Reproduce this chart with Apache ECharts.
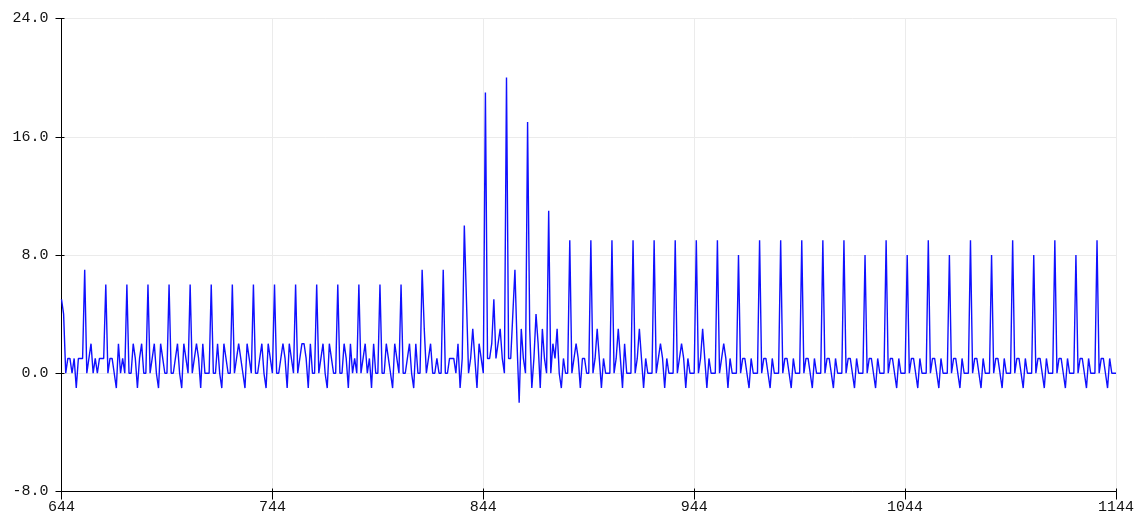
<!DOCTYPE html>
<html>
<head>
<meta charset="utf-8">
<script src="https://cdn.jsdelivr.net/npm/echarts@6/dist/echarts.min.js"></script>
<style>
  html, body { margin: 0; padding: 0; background: #fff; }
  #plot { width: 1145px; height: 521px; }
</style>
</head>
<body>
<div id="plot"></div>
<script>
// sample numbers on the x axis start here
const firstSample = 644
const xTicks = [644, 744, 844, 944, 1044, 1144]
const yTicks = [-8, 0, 8, 16, 24]

// readings 644..804
const calmValues = [
  5, 4, 0, 1, 1, 0, 1, -1, 1, 1, 1,
  7, 0, 1, 2, 0, 1, 0, 1, 1, 1,
  6, 0, 1, 1, 0, -1, 2, 0, 1, 0,
  6, 0, 0, 2, 1, -1, 1, 2, 0, 0,
  6, 0, 1, 2, 0, -1, 2, 1, 0, 0,
  6, 0, 0, 1, 2, 0, -1, 2, 1, 0,
  6, 0, 1, 2, 1, -1, 2, 0, 0, 0,
  6, 0, 0, 2, 0, -1, 2, 1, 0, 0,
  6, 0, 1, 2, 1, 0, -1, 2, 1, 0,
  6, 0, 0, 1, 2, 0, -1, 2, 1, 0,
  6, 0, 0, 1, 2, 1, -1, 2, 1, 0,
  6, 0, 1, 2, 2, 1, -1, 2, 0, 0,
  6, 0, 1, 2, 0, -1, 2, 1, 0, 0,
  6, 0, 0, 2, 1, -1, 2, 0, 1, 0,
  6, 0, 1, 2, 0, 1, -1, 2, 0, 0,
  6, 0, 0, 2, 1, 0, -1, 2, 1, 0
]
// readings 805..884 (the burst)
const burstValues = [
  6, 0, 0, 1, 2, 0, -1, 2, 0, 0,
  7, 3, 0, 1, 2, 0, 0, 1, 0, 0,
  7, 0, 0, 1, 1, 1, 0, 2, -1, 1,
  10, 5, 0, 1, 3, 1, -1, 2, 1, 0,
  19, 1, 1, 2, 5, 1, 2, 3, 1, 0,
  20, 1, 1, 4, 7, 2, -2, 3, 1, 0,
  17, 3, -1, 1, 4, 2, -1, 3, 1, 0,
  11, 0, 2, 1, 3, 0, -1, 1, 0, 0
]
// readings 885..1144
const steadyValues = [
  9, 0, 1, 2, 1, -1, 1, 1, 0, 0,
  9, 0, 1, 3, 1, -1, 1, 0, 0, 0,
  9, 0, 1, 3, 1, -1, 2, 0, 0, 0,
  9, 0, 1, 3, 1, -1, 1, 0, 0, 0,
  9, 0, 1, 2, 1, -1, 1, 0, 0, 0,
  9, 0, 1, 2, 1, -1, 1, 0, 0, 0,
  9, 0, 1, 3, 1, -1, 1, 0, 0, 0,
  9, 0, 1, 2, 1, -1, 1, 0, 0, 0,
  8, 0, 1, 1, 0, -1, 1, 0, 0, 0,
  9, 0, 1, 1, 0, -1, 1, 0, 0, 0,
  9, 0, 1, 1, 0, -1, 1, 0, 0, 0,
  9, 0, 1, 1, 0, -1, 1, 0, 0, 0,
  9, 0, 1, 1, 0, -1, 1, 0, 0, 0,
  9, 0, 1, 1, 0, -1, 1, 0, 0, 0,
  8, 0, 1, 1, 0, -1, 1, 0, 0, 0,
  9, 0, 1, 1, 0, -1, 1, 0, 0, 0,
  8, 0, 1, 1, 0, -1, 1, 0, 0, 0,
  9, 0, 1, 1, 0, -1, 1, 0, 0, 0,
  8, 0, 1, 1, 0, -1, 1, 0, 0, 0,
  9, 0, 1, 1, 0, -1, 1, 0, 0, 0,
  8, 0, 1, 1, 0, -1, 1, 0, 0, 0,
  9, 0, 1, 1, 0, -1, 1, 0, 0, 0,
  8, 0, 1, 1, 0, -1, 1, 0, 0, 0,
  9, 0, 1, 1, 0, -1, 1, 0, 0, 0,
  8, 0, 1, 1, 0, -1, 1, 0, 0, 0,
  9, 0, 1, 1, 0, -1, 1, 0, 0, 0
]

const readings = calmValues.concat(burstValues, steadyValues)
const points = readings.map((v, i) => [firstSample + i, v])

const monoFont = '"Liberation Mono", "DejaVu Sans Mono", monospace'
const xMin = xTicks[0], xMax = xTicks[xTicks.length - 1]
const xStep = xTicks[1] - xTicks[0]
const yMin = yTicks[0], yMax = yTicks[yTicks.length - 1]
const yStep = yTicks[1] - yTicks[0]

// two copies of each axis: one draws the outer tick half, one the inner half
const xBase = {
  type: 'value', position: 'bottom', min: xMin, max: xMax, interval: xStep,
  axisLine: { onZero: false, lineStyle: { color: '#000', width: 1 } },
  splitLine: { show: false }
}
const yBase = {
  type: 'value', position: 'left', min: yMin, max: yMax, interval: yStep,
  axisLine: { show: true, onZero: false, lineStyle: { color: '#000', width: 1 } },
  splitLine: { show: false }
}

const option = {
  animation: false,
  backgroundColor: '#fff',
  grid: { left: 61.5, right: 29, top: 18.5, bottom: 29.5 },
  xAxis: [
    Object.assign({}, xBase, {
      axisTick: { show: true, length: 8, lineStyle: { color: '#000' } },
      axisLabel: {
        color: '#111', fontFamily: monoFont, fontSize: 15, margin: 8,
        formatter: v => String(v)
      },
      splitLine: { show: true, lineStyle: { color: '#ebebeb', width: 1 } }
    }),
    Object.assign({}, xBase, {
      axisTick: { show: true, inside: true, length: 3, lineStyle: { color: '#000' } },
      axisLabel: { show: false }
    })
  ],
  yAxis: [
    Object.assign({}, yBase, {
      axisTick: { show: true, length: 6, lineStyle: { color: '#000' } },
      axisLabel: {
        color: '#111', fontFamily: monoFont, fontSize: 15, margin: 13,
        formatter: v => v.toFixed(1)
      },
      splitLine: { show: true, lineStyle: { color: '#ebebeb', width: 1 } }
    }),
    Object.assign({}, yBase, {
      axisTick: { show: true, inside: true, length: 3, lineStyle: { color: '#000' } },
      axisLabel: { show: false }
    })
  ],
  series: [
    {
      type: 'line',
      xAxisIndex: 0,
      yAxisIndex: 0,
      data: points,
      showSymbol: false,
      symbol: 'none',
      lineStyle: { color: '#1010ff', width: 1.4 },
      z: 5
    }
  ]
}

const chart = echarts.init(document.getElementById('plot'))
chart.setOption(option)
</script>
</body>
</html>
